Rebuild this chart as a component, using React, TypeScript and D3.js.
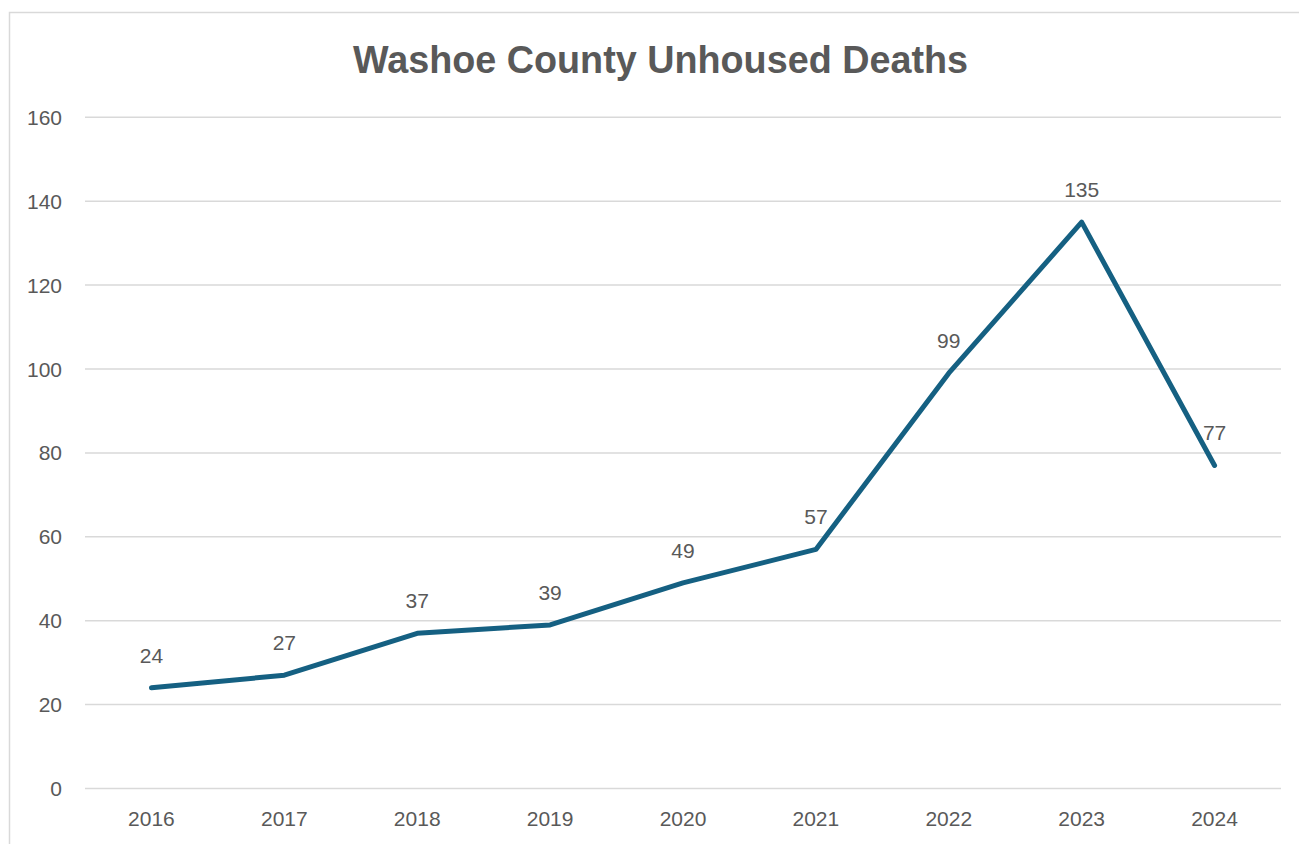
import { useMemo } from 'react';
import * as d3 from 'd3';

const YEARS = ['2016', '2017', '2018', '2019', '2020', '2021', '2022', '2023', '2024'];
const DEATHS = [24, 27, 37, 39, 49, 57, 99, 135, 77];
const Y_TICKS = [0, 20, 40, 60, 80, 100, 120, 140, 160];
const TITLE = 'Washoe County Unhoused Deaths';

const WIDTH = 1299;
const HEIGHT = 844;
const TEXT = '#595959';
const LINE = '#156082';
const GRID = '#d9d9d9';
const FONT = '"Liberation Sans", Arial, sans-serif';

export default function App() {
  const x = useMemo(() => d3.scaleBand<string>().domain(YEARS).range([85, 1281]).padding(0), []);
  const y = useMemo(() => d3.scaleLinear().domain([0, 160]).range([788.5, 117.3]), []);
  const cx = (d: string) => (x(d) ?? 0) + x.bandwidth() / 2;

  const points = YEARS.map((yr, i) => ({ yr, v: DEATHS[i] }));
  const line = d3.line<{ yr: string; v: number }>()
    .x(d => cx(d.yr))
    .y(d => y(d.v));

  return (
    <svg
      width={WIDTH}
      height={HEIGHT}
      style={{ position: 'absolute', left: 0, top: 0, background: '#fff' }}
      fontFamily={FONT}
    >
      {/* chart frame, runs off right and bottom edges */}
      <rect x={9.5} y={12.5} width={WIDTH + 10} height={HEIGHT + 10} fill="#fff" stroke="#d9d9d9" strokeWidth={1.5} />

      <text
        x={660.5}
        y={73}
        textAnchor="middle"
        fontSize={39}
        fontWeight={700}
        fill={TEXT}
        textLength={615}
        lengthAdjust="spacingAndGlyphs"
      >
        {TITLE}
      </text>

      {/* gridlines + y labels */}
      {Y_TICKS.map(t => (
        <g key={t}>
          <line x1={85} x2={1281} y1={y(t)} y2={y(t)} stroke={GRID} strokeWidth={1.5} />
          <text x={62} y={y(t)} dy="0.36em" textAnchor="end" fontSize={21} fill={TEXT}>
            {t}
          </text>
        </g>
      ))}

      {/* x labels */}
      {YEARS.map(yr => (
        <text key={yr} x={cx(yr)} y={826} textAnchor="middle" fontSize={21} fill={TEXT}>
          {yr}
        </text>
      ))}

      <path
        d={line(points) ?? ''}
        fill="none"
        stroke={LINE}
        strokeWidth={5}
        strokeLinecap="round"
        strokeLinejoin="round"
      />

      {/* data labels */}
      {points.map(p => (
        <text key={p.yr} x={cx(p.yr)} y={y(p.v) - 25} textAnchor="middle" fontSize={21} fill={TEXT}>
          {p.v}
        </text>
      ))}
    </svg>
  );
}
